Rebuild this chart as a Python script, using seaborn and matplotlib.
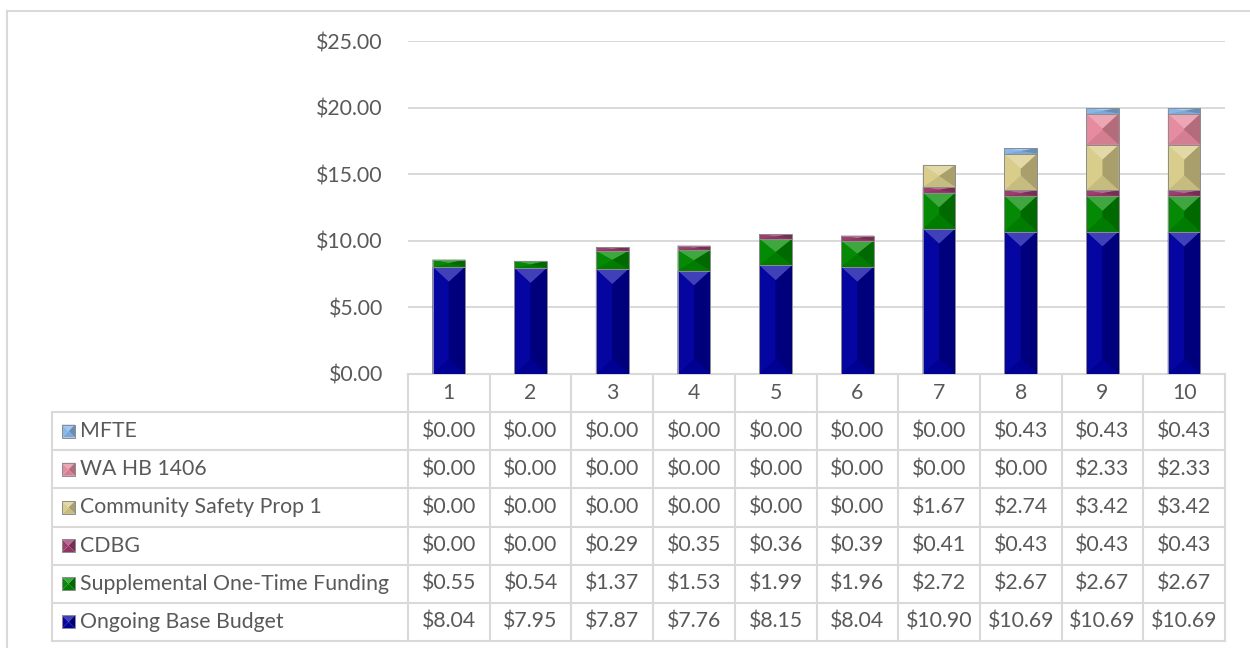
import numpy as np
import pandas as pd
import matplotlib
matplotlib.use("Agg")
import matplotlib.pyplot as plt
from matplotlib.patches import Polygon
from matplotlib.colors import to_rgb
import seaborn as sns

# data (one column per year 1..10)
categories = ["1", "2", "3", "4", "5", "6", "7", "8", "9", "10"]
ongoing_base = [8.04, 7.95, 7.87, 7.76, 8.15, 8.04, 10.90, 10.69, 10.69, 10.69]
supplemental = [0.55, 0.54, 1.37, 1.53, 1.99, 1.96, 2.72, 2.67, 2.67, 2.67]
cdbg = [0.00, 0.00, 0.29, 0.35, 0.36, 0.39, 0.41, 0.43, 0.43, 0.43]
community_safety = [0.00, 0.00, 0.00, 0.00, 0.00, 0.00, 1.67, 2.74, 3.42, 3.42]
wa_hb_1406 = [0.00, 0.00, 0.00, 0.00, 0.00, 0.00, 0.00, 0.00, 2.33, 2.33]
mfte = [0.00, 0.00, 0.00, 0.00, 0.00, 0.00, 0.00, 0.43, 0.43, 0.43]

series_names = ["Ongoing Base Budget", "Supplemental One-Time Funding", "CDBG",
                "Community Safety Prop 1", "WA HB 1406", "MFTE"]
series_values = [ongoing_base, supplemental, cdbg, community_safety, wa_hb_1406, mfte]
series_colors = ["#0000a0", "#008800", "#9c3a6c", "#d8cc8a", "#e68a9e", "#84b6ea"]

df = pd.DataFrame(dict(zip(series_names, series_values)), index=categories)

plt.rcParams["font.family"] = ["Lato", "DejaVu Sans"]
TXT = "#595959"
GRID = "#d9d9d9"
W, H = 1250, 648
FS = 15.3


def shade(c, f):
    c = np.array(to_rgb(c))
    if f >= 0:
        return tuple(c + (1 - c) * f)
    return tuple(c * (1 + f))


def bevel(axis, x0, x1, yb, yt, color, bx, by, z=3):
    # four faces of an Excel style "angle" bevel
    faces = [
        ([(x0, yt), (x1, yt), (x1 - bx, yt - by), (x0 + bx, yt - by)], 0.25),
        ([(x0, yb), (x1, yb), (x1 - bx, yb + by), (x0 + bx, yb + by)], -0.08),
        ([(x0, yb), (x0, yt), (x0 + bx, yt - by), (x0 + bx, yb + by)], 0.02),
        ([(x1, yb), (x1, yt), (x1 - bx, yt - by), (x1 - bx, yb + by)], -0.22),
    ]
    for pts, f in faces:
        axis.add_patch(Polygon(pts, closed=True, facecolor=shade(color, f),
                               edgecolor="none", zorder=z))
    if x1 - x0 > 2 * bx + 1e-9:
        axis.add_patch(Polygon([(x0 + bx, yb + by), (x1 - bx, yb + by),
                                (x1 - bx, yt - by), (x0 + bx, yt - by)],
                               closed=True, facecolor=color, edgecolor="none", zorder=z))
    axis.add_patch(Polygon([(x0, yb), (x1, yb), (x1, yt), (x0, yt)], closed=True,
                           facecolor="none", edgecolor="#8c8c8c", lw=0.7, zorder=z + 0.1))


fig = plt.figure(figsize=(W / 100, H / 100), dpi=100)

left, right, top, bottom = 408, 1225, 41, 374
ax = fig.add_axes([left / W, 1 - bottom / H, (right - left) / W, (bottom - top) / H])

# stacked columns: draw cumulative totals from the top series down
cum = df.cumsum(axis=1)
bar_w = 0.4
for name, col in zip(series_names[::-1], series_colors[::-1]):
    sns.barplot(x=categories, y=cum[name].values, color=col, width=bar_w,
                saturation=1, ax=ax, zorder=2)

# bevel decoration for each segment
ppy = (bottom - top) / 25.0
bev_y = 15 / ppy
for i in range(len(categories)):
    base = 0.0
    for name, col in zip(series_names, series_colors):
        v = df[name].iloc[i]
        if v > 0:
            x0, x1 = i - bar_w / 2, i + bar_w / 2
            bevel(ax, x0, x1, base, base + v, col, bar_w / 2, min(bev_y, v / 2))
        base += v

ax.set_xlim(-0.5, len(categories) - 0.5)
ax.set_ylim(0, 25)
ax.set_yticks(np.arange(0, 26, 5))
ax.set_yticklabels([f"${t:.2f}" for t in np.arange(0, 26, 5)])
ax.set_xticks([])
ax.set_xlabel("")
ax.set_ylabel("")
ax.tick_params(axis="y", length=0, pad=18, labelsize=FS, labelcolor=TXT)
ax.grid(axis="y", color=GRID, lw=1.4)
ax.set_axisbelow(True)
for s in ax.spines.values():
    s.set_visible(False)
ax.patch.set_alpha(0)

# data table drawn in pixel space
tax = fig.add_axes([0, 0, 1, 1], zorder=-1)
tax.set_xlim(0, W)
tax.set_ylim(H, 0)
tax.axis("off")

# chart area border
tax.plot([7, 7], [11, H], color=GRID, lw=1.5)
tax.plot([7, W], [11, 11], color=GRID, lw=1.5)

tab_left = 52
col_w = (right - left) / len(categories)
row_h = (641 - 412) / len(series_names)
rows_y = [412 + k * row_h for k in range(len(series_names) + 1)]

tax.plot([left, right], [bottom, bottom], color=GRID, lw=1.5)
for y in rows_y:
    tax.plot([tab_left, right], [y, y], color=GRID, lw=1.5)
tax.plot([tab_left, tab_left], [412, 641], color=GRID, lw=1.5)
for k in range(len(categories) + 1):
    x = left + k * col_w
    tax.plot([x, x], [bottom, 641], color=GRID, lw=1.5)

for k, c in enumerate(categories):
    tax.text(left + (k + 0.5) * col_w, (bottom + 412) / 2, c, ha="center",
             va="center", fontsize=FS, color=TXT)

table_order = series_names[::-1]
table_colors = series_colors[::-1]
for r, (name, col) in enumerate(zip(table_order, table_colors)):
    yc = (rows_y[r] + rows_y[r + 1]) / 2
    m = 6.5
    bevel(tax, 62, 75, yc + m, yc - m, col, 6.5, -6.5, z=3)
    tax.text(80, yc, name, ha="left", va="center", fontsize=FS, color=TXT)
    for k, v in enumerate(df[name].values):
        tax.text(left + (k + 0.5) * col_w, yc, f"${v:.2f}", ha="center",
                 va="center", fontsize=FS, color=TXT)

fig.savefig("out.png", dpi=100)
